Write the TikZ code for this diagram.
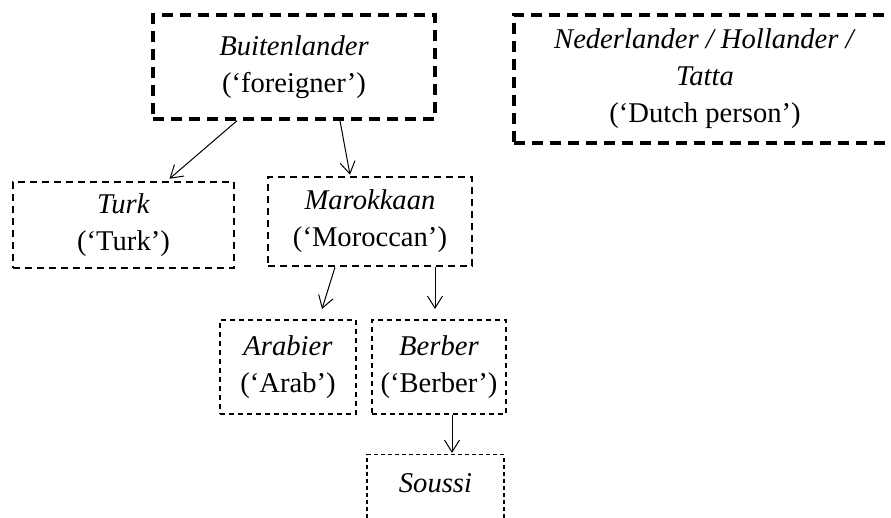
\documentclass[tikz,border=0pt]{standalone}
\usepackage{fontspec}
\setmainfont{Liberation Serif}
\usetikzlibrary{arrows.meta}

\begin{document}
\begin{tikzpicture}[x=0.5pt,y=-0.5pt,
    every node/.style={font=\fontsize{14.3}{18.5}\selectfont, align=center, inner sep=0pt},
    lvlone/.style={draw, line width=1.75pt, dash pattern=on 5.5pt off 3.5pt},
    lvltwo/.style={draw, line width=1.25pt, dash pattern=on 3.5pt off 2.5pt},
    lvlthree/.style={draw, line width=1pt, dash pattern=on 2.5pt off 2pt},
    lvlfour/.style={draw, line width=0.65pt, dash pattern=on 2pt off 1.5pt},
    arr/.style={line width=0.5pt, -{Straight Barb[length=6pt,width=7.5pt]}}]
  \useasboundingbox (0,0) rectangle (891,518);
  \clip (0,0) rectangle (891,518);

  \node[lvlone, minimum width=141pt, minimum height=52pt] (buiten) at (294,67)
    {\textit{Buitenlander}\\(`foreigner')};
  \node[lvlone, minimum width=191pt, minimum height=64pt] (dutch) at (705,79)
    {\textit{Nederlander / Hollander /}\\\textit{Tatta}\\(`Dutch person')};

  \node[lvltwo, minimum width=110.5pt, minimum height=43pt] (turk) at (123.5,225)
    {\textit{Turk}\\(`Turk')};
  \node[lvltwo, minimum width=102pt, minimum height=44.5pt] (marok) at (370,221.5)
    {\textit{Marokkaan}\\(`Moroccan')};

  \node[lvlthree, minimum width=68pt, minimum height=47pt] (arab) at (288,367)
    {\textit{Arabier}\\(`Arab')};
  \node[lvlthree, minimum width=67pt, minimum height=47pt] (berber) at (439,367)
    {\textit{Berber}\\(`Berber')};

  \node[lvlfour, anchor=north, minimum width=68.5pt, inner ysep=9pt,
        text height=10pt, text depth=40pt] (soussi) at (435.5,454)
    {\textit{Soussi}};

  \draw[arr] ([xshift=-28.5pt]buiten.south) -- ([xshift=23pt,yshift=1pt]turk.north);
  \draw[arr] ([xshift=23pt]buiten.south) -- ([xshift=-10pt,yshift=0.5pt]marok.north);
  \draw[arr] ([xshift=-17.5pt]marok.south) -- ([xshift=17pt,yshift=5pt]arab.north);
  \draw[arr] ([xshift=32.5pt]marok.south) -- ([xshift=-2pt,yshift=5pt]berber.north);
  \draw[arr] ([xshift=6.5pt]berber.south) -- ([xshift=8.25pt,yshift=0.5pt]soussi.north);
\end{tikzpicture}
\end{document}
